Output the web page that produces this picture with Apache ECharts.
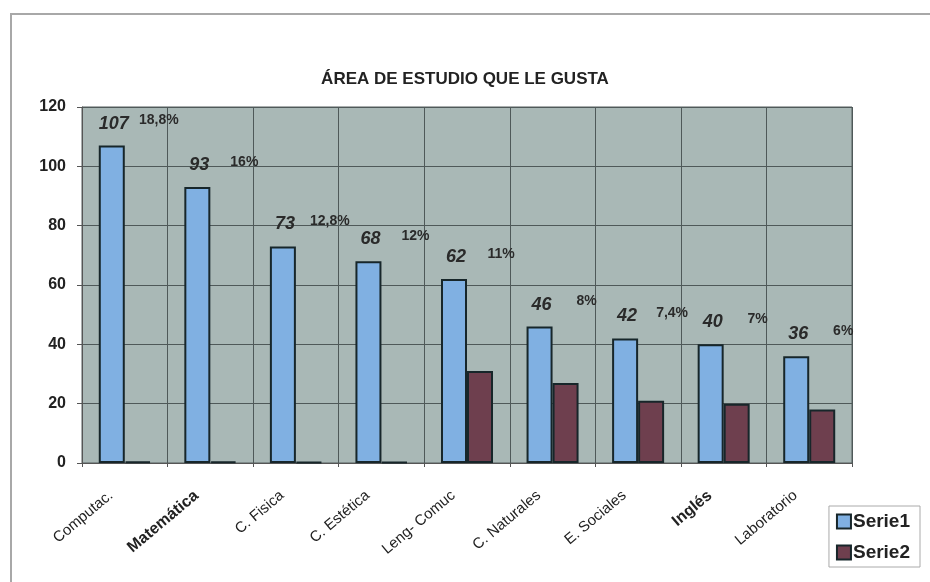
<!DOCTYPE html>
<html>
<head>
<meta charset="utf-8">
<script src="https://cdn.jsdelivr.net/npm/echarts@6/dist/echarts.min.js"></script>
<style>
  html, body { margin: 0; padding: 0; background: #fff; }
  #frame { position: absolute; left: 10px; top: 13px; width: 930px; height: 580px;
           border-left: 2px solid #a8a8a8; border-top: 2px solid #a8a8a8; }
  #chart { position: absolute; left: 0; top: 0; width: 930px; height: 582px; }
</style>
</head>
<body>
<div id="frame"></div>
<div id="chart"></div>
<script>
// categories and values
const categories = ['Computac.', 'Matemática', 'C. Fisica', 'C. Estética', 'Leng- Comuc',
  'C. Naturales', 'E. Sociales', 'Inglés', 'Laboratorio'];
const serie1 = [107, 93, 73, 68, 62, 46, 42, 40, 36];
const serie2 = [0.5, 0.5, 0.3, 0.3, 31, 27, 21, 20, 18];
const percents = ['18,8%', '16%', '12,8%', '12%', '11%', '8%', '7,4%', '7%', '6%'];
const yTicks = [0, 20, 40, 60, 80, 100, 120];

const chart = echarts.init(document.getElementById('chart'));
const font = 'Liberation Sans, Arial, sans-serif';

const option = {
  animation: false,
  textStyle: { fontFamily: font },
  title: {
    text: 'ÁREA DE ESTUDIO QUE LE GUSTA',
    left: 'center',
    top: 66,
    textStyle: { fontSize: 17, fontWeight: 'bold', color: '#222', fontFamily: font }
  },
  legend: {
    orient: 'vertical',
    right: 10,
    top: 506,
    padding: [6, 10, 5, 7],
    itemGap: 12,
    itemWidth: 14,
    itemHeight: 14,
    borderColor: '#aaa',
    borderWidth: 1,
    backgroundColor: '#fff',
    data: [
      { name: 'Serie1', icon: 'rect' },
      { name: 'Serie2', icon: 'rect' }
    ],
    textStyle: { fontSize: 19, fontWeight: 'bold', color: '#222', padding: [0, 0, 0, -3] }
  },
  grid: {
    left: 82,
    right: 78,
    top: 107,
    bottom: 119,
    show: true,
    backgroundColor: '#a9b8b6',
    borderColor: '#555f5f',
    borderWidth: 1
  },
  xAxis: {
    type: 'category',
    data: categories,
    axisLine: { lineStyle: { color: '#555', width: 1 } },
    axisTick: { show: true, alignWithLabel: false, length: 4, lineStyle: { color: '#555' } },
    splitLine: { show: true, interval: 0, lineStyle: { color: '#4f5959', width: 1 } },
    axisLabel: {
      interval: 0,
      rotate: 40,
      margin: 19,
      padding: [0, 18, 0, 0],
      fontSize: 15,
      color: '#222',
      formatter: function (v) {
        return (v === 'Matemática' || v === 'Inglés') ? '{b|' + v + '}' : '{n|' + v + '}';
      },
      rich: {
        n: { fontSize: 15, color: '#222', fontFamily: font },
        b: { fontSize: 16, fontWeight: 'bold', color: '#222', fontFamily: font }
      }
    }
  },
  yAxis: {
    type: 'value',
    min: 0,
    max: yTicks[yTicks.length - 1],
    interval: yTicks[1] - yTicks[0],
    axisLine: { show: true, lineStyle: { color: '#555' } },
    axisTick: { show: true, length: 5, lineStyle: { color: '#555' } },
    splitLine: { show: true, lineStyle: { color: '#4f5959', width: 1 } },
    axisLabel: { fontSize: 16, fontWeight: 'bold', color: '#222', margin: 16 }
  },
  series: [
    {
      name: 'Serie1',
      type: 'bar',
      barWidth: 26,
      barGap: '0%',
      itemStyle: { color: '#80b0e2', borderColor: '#17262a', borderWidth: 2 },
      label: {
        show: true,
        position: 'top',
        distance: 12,
        offset: [25, 0],
        formatter: function (p) {
          return '{v|' + p.value + '}{p|' + percents[p.dataIndex] + '}';
        },
        rich: {
          v: { width: 44, align: 'center', fontSize: 18, fontStyle: 'italic', fontWeight: 'bold', color: '#2a2a2a', fontFamily: font },
          p: { width: 46, align: 'left', fontSize: 14, fontWeight: 'bold', color: '#2a2a2a', fontFamily: font, padding: [0, 0, 6, 0] }
        }
      },
      data: serie1
    },
    {
      name: 'Serie2',
      type: 'bar',
      barWidth: 26,
      barGap: '0%',
      itemStyle: { color: '#6e3f4e', borderColor: '#17262a', borderWidth: 2 },
      data: serie2
    }
  ]
};

chart.setOption(option);
</script>
</body>
</html>
